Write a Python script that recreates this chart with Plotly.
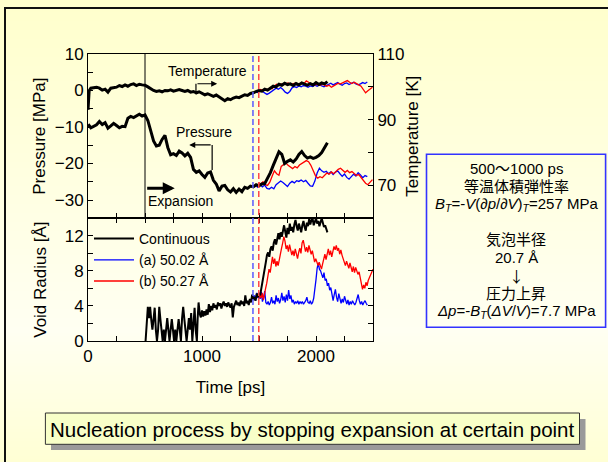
import plotly.graph_objects as go

# ---------------- data ----------------
# continuous expansion run: pressure [MPa] and temperature [K]
t_cont = [0, 10, 25, 50, 75, 100, 125, 150, 175, 200,
          225, 250, 275, 300, 325, 350, 375, 400, 425, 450,
          475, 500, 525, 550, 575, 600, 625, 650, 675, 700,
          725, 750, 775, 800, 825, 850, 875, 900, 925, 950,
          975, 1000, 1025, 1050, 1075, 1100, 1125, 1150, 1175, 1200,
          1225, 1250, 1275, 1300, 1325, 1350, 1375, 1400, 1425, 1450,
          1475, 1500, 1525, 1550, 1575, 1600, 1625, 1650, 1675, 1700,
          1725, 1750, 1775, 1800, 1825, 1850, 1875, 1900, 1925, 1950,
          1975, 2000, 2025, 2050, 2075, 2100]
p_cont = [-9.9, -9.6, -10.2, -9.8, -9.4, -8.5, -9.3, -8.8, -10.3, -9.7,
          -9.0, -9.6, -10.2, -9.8, -9.9, -7.6, -7.1, -7.4, -7.0, -6.5,
          -7.0, -6.7, -8.2, -10.8, -13.8, -15.2, -15.0, -13.4, -12.3, -15.6,
          -17.6, -17.3, -17.8, -16.6, -17.1, -17.9, -17.2, -18.3, -21.6, -22.4,
          -22.0, -23.0, -23.8, -22.6, -22.3, -24.6, -25.6, -27.5, -26.2, -26.0,
          -27.2, -27.8, -26.9, -27.9, -27.0, -27.7, -26.5, -26.8, -26.2, -26.4,
          -25.8, -26.1, -25.6, -25.5, -24.0, -22.5, -20.5, -18.5, -16.8, -17.5,
          -20.0, -19.4, -19.0, -19.6, -18.8, -17.5, -16.7, -17.8, -18.5, -18.2,
          -18.6, -18.3, -17.8, -17.0, -15.8, -14.3]
temp_cont = [93.0, 98.8, 99.6, 99.7, 99.9, 99.6, 99.0, 99.3, 98.4, 99.6,
             99.7, 99.9, 100.4, 100.1, 100.6, 100.2, 100.7, 100.9, 100.4, 100.8,
             100.6, 100.5, 100.0, 99.4, 98.9, 98.6, 98.8, 98.5, 98.9, 98.8,
             99.1, 98.7, 99.0, 99.2, 98.9, 98.6, 98.9, 98.4, 98.6, 98.2,
             98.5, 98.0, 97.6, 97.9, 97.4, 97.1, 97.5, 96.9, 96.3, 95.8,
             96.4, 96.1, 96.6, 96.9, 96.7, 97.2, 97.6, 97.4, 98.0, 98.2,
             98.6, 98.9, 98.7, 99.3, 99.0, 99.6, 100.2, 100.0, 100.8, 100.5,
             101.1, 100.7, 100.9, 100.4, 101.0, 100.6, 101.2, 100.8, 100.5, 101.0,
             100.6, 101.3, 100.7, 101.2, 100.9, 101.6]

# run (a): expansion stopped at 50.02 A
t_a = [1447, 1470, 1490, 1510, 1530, 1550, 1570, 1590, 1610, 1630,
       1650, 1670, 1690, 1710, 1730, 1750, 1770, 1790, 1810, 1830,
       1850, 1870, 1890, 1910, 1930, 1950, 1970, 1990, 2010, 2030,
       2050, 2070, 2090, 2110, 2130, 2150, 2170, 2190, 2210, 2230,
       2250, 2270, 2290, 2310, 2330, 2350, 2370, 2390, 2410, 2430,
       2450]
p_a = [-26.3, -26.0, -26.5, -25.8, -26.4, -25.9, -26.8, -27.0, -26.5, -26.9,
       -25.8, -25.3, -24.8, -25.2, -25.8, -26.3, -25.4, -24.9, -25.3, -24.7,
       -24.9, -24.5, -25.0, -24.6, -25.4, -26.1, -26.2, -24.8, -22.6, -21.3,
       -22.0, -22.4, -22.1, -22.8, -22.3, -23.0, -22.4, -22.0, -22.8, -23.5,
       -22.9, -23.8, -24.3, -23.6, -22.9, -23.4, -22.5, -23.1, -23.9, -23.3,
       -23.6]
temp_a = [98.2, 98.5, 98.3, 98.9, 98.6, 98.0, 97.7, 98.1, 98.6, 99.2,
          99.6, 99.3, 99.8, 99.2, 98.4, 98.0, 98.6, 99.7, 100.1, 99.8,
          100.3, 100.0, 100.4, 100.2, 99.9, 100.3, 100.1, 100.5, 100.2, 100.6,
          100.3, 100.0, 100.4, 100.8, 101.1, 100.6, 100.9, 101.3, 100.8, 100.5,
          101.0, 101.2, 100.7, 101.0, 101.4, 100.9, 100.6, 100.9, 101.3, 101.0,
          101.5]

# run (b): expansion stopped at 50.27 A
t_b = [1498, 1515, 1535, 1555, 1575, 1595, 1615, 1635, 1655, 1675,
       1695, 1715, 1735, 1755, 1775, 1795, 1815, 1835, 1855, 1875,
       1895, 1915, 1935, 1955, 1975, 1995, 2015, 2035, 2055, 2075,
       2095, 2115, 2135, 2155, 2175, 2195, 2215, 2235, 2255, 2275,
       2295, 2315, 2335, 2355, 2375, 2395, 2415, 2435, 2455, 2475,
       2495]
p_b = [-25.2, -25.6, -25.0, -25.8, -26.0, -25.1, -23.5, -22.0, -22.8, -23.2,
       -20.8, -20.4, -19.8, -20.5, -21.0, -21.4, -20.8, -21.2, -20.4, -20.0,
       -19.6, -19.2, -19.5, -20.5, -21.9, -23.3, -24.0, -23.6, -23.9, -23.2,
       -22.6, -22.9, -22.3, -22.8, -22.1, -21.6, -21.3, -22.0, -22.4, -21.9,
       -22.5, -22.2, -22.8, -23.3, -23.0, -23.8, -24.6, -25.4, -25.8, -25.0,
       -24.4]
temp_b = [98.8, 99.2, 98.9, 99.4, 99.1, 99.6, 99.4, 100.3, 100.8, 100.4,
          100.9, 100.6, 100.9, 101.2, 100.7, 100.9, 101.1, 100.6, 101.0, 101.3,
          101.0, 101.8, 101.4, 100.8, 100.9, 100.6, 100.9, 100.5, 100.8, 100.4,
          100.2, 100.5, 99.9, 100.3, 100.8, 101.1, 100.9, 101.3, 101.5, 101.9,
          101.4, 101.0, 101.4, 100.9, 100.6, 100.2, 99.0, 98.2, 98.8, 99.4,
          99.9]

# void radius [A]
t_r_cont = [505, 515, 525, 535, 545, 555, 565, 575, 585, 595,
            605, 615, 625, 635, 645, 655, 665, 675, 685, 695,
            705, 715, 725, 735, 745, 755, 765, 775, 785, 795,
            805, 815, 825, 835, 845, 855, 865, 875, 885, 895,
            905, 915, 925, 935, 945, 955, 962,
            970, 980, 990, 1000, 1010, 1020, 1030, 1040, 1050, 1060,
            1070, 1080, 1090, 1100, 1110, 1120, 1130, 1140, 1150, 1160,
            1170, 1180, 1190, 1200, 1210, 1220, 1230, 1240, 1250, 1260,
            1270, 1280, 1290, 1300, 1310, 1320, 1330, 1340, 1350, 1360,
            1370, 1380, 1390, 1400, 1410, 1420, 1430, 1440, 1450, 1460,
            1470, 1480, 1490, 1500, 1510, 1520, 1530, 1540, 1550, 1560,
            1570, 1580, 1590, 1600, 1610, 1620, 1630, 1640, 1650, 1660,
            1670, 1680, 1690, 1700, 1710, 1720, 1730, 1740, 1750, 1760,
            1770, 1780, 1790, 1800, 1810, 1820, 1830, 1840, 1850, 1860,
            1870, 1880, 1890, 1900, 1910, 1920, 1930, 1940, 1950, 1960,
            1970, 1980, 1990, 2000, 2010, 2020, 2030, 2040, 2050, 2060,
            2070, 2080, 2090, 2100]
r_cont = [0, 2.5, 3.9, 2.6, 3.9, 2.4, 1.3, 2.5, 3.8, 1.3,
          0, 1.3, 3.9, 2.5, 1.3, 0, 1.3, 0, 1.3, 2.6,
          1.3, 0, 1.3, 2.5, 1.3, 0, 1.3, 0, 1.3, 2.5,
          1.3, 0, 2.6, 3.9, 2.5, 1.3, 0, 1.3, 2.6, 1.3,
          3.2, 0, 2.5, 3.8, 1.2, 0, 2.6,
          4.4, 3.1, 2.7, 3.5, 2.8, 3.4, 2.9, 3.6, 3.0, 4.2,
          3.3, 4.0, 3.5, 4.3, 3.8, 4.1, 3.6, 4.4, 4.0, 4.3,
          3.7, 4.2, 4.5, 4.0, 4.3, 3.9, 4.4, 4.1, 3.8, 4.3,
          2.7, 3.9, 4.2, 4.6, 4.1, 4.4, 4.0, 4.6, 4.2, 4.5,
          4.0, 5.2, 4.3, 4.6, 4.1, 4.8, 4.4, 5.3, 4.7, 5.0,
          4.6, 5.4, 5.0, 5.5, 5.2, 5.9, 6.5, 7.4, 8.3, 9.0,
          9.8, 10.1, 9.6, 10.5, 10.8, 10.3, 11.2, 11.6, 11.0, 11.9,
          12.3, 11.6, 12.4, 11.9, 12.7, 13.2, 12.5, 11.8, 12.9, 12.2,
          13.4, 12.6, 13.0, 12.4, 13.3, 13.8, 13.1, 12.6, 13.4, 12.8,
          12.4, 13.2, 13.7, 13.0, 12.6, 13.5, 13.1, 13.9, 13.3, 13.8,
          14.0, 13.2, 13.6, 14.0, 13.4, 13.7, 13.1, 13.6, 14.0, 13.5,
          13.0, 13.2, 12.7, 12.4]

t_r_a = [1447, 1460, 1470, 1480, 1490, 1500, 1510, 1520, 1530, 1540,
         1550, 1560, 1570, 1580, 1590, 1600, 1610, 1620, 1630, 1640,
         1650, 1660, 1670, 1680, 1690, 1700, 1710, 1720, 1730, 1740,
         1750, 1760, 1770, 1780, 1790, 1800, 1810, 1820, 1830, 1840,
         1850, 1860, 1870, 1880, 1890, 1900, 1910, 1920, 1930, 1940,
         1950, 1960, 1970, 1980, 1990, 2000, 2010, 2020, 2030, 2040,
         2050, 2060, 2070, 2080, 2090, 2100, 2110, 2120, 2130, 2140,
         2150, 2160, 2170, 2180, 2190, 2200, 2210, 2220, 2230, 2240,
         2250, 2260, 2270, 2280, 2290, 2300, 2310, 2320, 2330, 2340,
         2350, 2360, 2370, 2380, 2390, 2400, 2410, 2420, 2430, 2440,
         2450]
r_a = [4.7, 5.2, 4.6, 5.5, 4.9, 5.3, 4.8, 5.6, 4.5, 4.9,
       5.7, 4.4, 4.2, 4.5, 4.1, 4.4, 5.0, 4.3, 4.6, 4.2,
       5.2, 4.5, 4.9, 4.3, 4.7, 5.5, 4.6, 5.1, 4.4, 5.3,
       4.6, 5.8, 4.8, 5.2, 4.4, 4.7, 4.2, 4.5, 4.3, 4.6,
       4.2, 4.5, 4.3, 4.5, 4.2, 4.4, 4.6, 5.0, 4.4, 4.3,
       4.6, 4.2, 4.4, 4.9, 5.8, 7.0, 8.3, 8.9, 8.2, 8.0,
       7.6, 7.2, 7.8, 6.9, 7.1, 6.3, 6.6, 5.8, 6.1, 5.0,
       4.6, 5.3, 5.9, 5.0, 4.5, 5.4, 4.7, 4.3, 4.8, 4.4,
       5.1, 4.5, 4.2, 4.7, 4.1, 4.5, 4.2, 4.6, 4.3, 4.1,
       4.4, 4.9, 5.3, 4.6, 4.2, 4.5, 4.1, 4.4, 4.6, 4.3,
       4.1]

t_r_b = [1498, 1508, 1518, 1528, 1538, 1548, 1558, 1568, 1578, 1588,
         1598, 1608, 1618, 1628, 1638, 1648, 1658, 1668, 1678, 1688,
         1698, 1708, 1718, 1728, 1738, 1748, 1758, 1768, 1778, 1788,
         1798, 1808, 1818, 1828, 1838, 1848, 1858, 1868, 1878, 1888,
         1898, 1908, 1918, 1928, 1938, 1948, 1958, 1968, 1978, 1988,
         1998, 2008, 2018, 2028, 2038, 2048, 2058, 2068, 2078, 2088,
         2098, 2108, 2118, 2128, 2138, 2148, 2158, 2168, 2178, 2188,
         2198, 2208, 2218, 2228, 2238, 2248, 2258, 2268, 2278, 2288,
         2298, 2308, 2318, 2328, 2338, 2348, 2358, 2368, 2378, 2388,
         2398, 2408, 2418, 2428, 2438, 2448, 2458, 2468, 2478, 2488,
         2500]
r_b = [4.8, 5.4, 4.9, 5.5, 4.7, 5.2, 6.0, 6.6, 7.5, 8.2,
       7.8, 9.0, 9.6, 8.8, 9.4, 8.5, 9.1, 8.6, 9.4, 9.9,
       10.6, 11.2, 11.9, 11.4, 10.5, 10.9, 10.2, 11.0, 10.4, 9.8,
       10.3, 9.7, 10.5, 9.9, 9.4, 10.1, 10.6, 10.0, 11.2, 11.5,
       10.8, 10.2, 10.7, 10.1, 10.9, 10.4, 9.9, 10.3, 9.5, 9.0,
       9.4, 8.8, 8.6, 9.0, 8.4, 8.2, 8.8, 9.4, 9.9, 9.3,
       10.1, 10.5, 9.8, 10.3, 9.6, 10.2, 10.8, 10.4, 10.9, 10.3,
       10.6, 9.9, 10.4, 9.8, 9.3, 9.0, 8.6, 9.1, 8.7, 8.3,
       8.9, 8.2, 7.9, 8.5, 7.8, 8.4, 8.0, 7.6, 7.9, 7.2,
       6.5, 5.9, 6.4, 6.0, 6.7, 6.3, 6.9, 7.2, 7.5, 7.8,
       8.2]

# times at which the expansion was stopped
t_stop_a = 1447
t_stop_b = 1498
t_expansion_start = 500

legend_names = ["Continuous", "(a) 50.02 Å", "(b) 50.27 Å"]

info_lines = [
    "500～1000 ps",
    "等温体積弾性率",
    "<i>B</i><sub><i>T</i></sub>=-<i>V</i>(∂<i>p</i>/∂<i>V</i>)<sub><i>T</i></sub>=257 MPa",
    "",
    "気泡半径",
    "20.7 Å",
    "↓",
    "圧力上昇",
    "<i>Δp</i>=-<i>B</i><sub><i>T</i></sub>(<i>ΔV</i>/<i>V</i>)=7.7 MPa",
]
caption = "Nucleation process by stopping expansion at certain point"

# ---------------- page geometry (pixels) ----------------
W, H = 608, 462
ML, MR, MT, MB = 88, 235, 54, 121
PL, PR, PT, PB = ML, W - MR, MT, H - MB
SPLIT_PX = 218.3
split = (PB - SPLIT_PX) / (PB - PT)


def fx(xp):
    return (xp - PL) / (PR - PL)


def fy(yp):
    return (PB - yp) / (PB - PT)


FONT = "Liberation Sans, Arial, Noto Sans CJK JP, sans-serif"
CJK_FONT = "Noto Sans CJK JP, Liberation Sans, sans-serif"
BLACK = "#000000"
BLUE = "#0000ff"
RED = "#ff0000"

fig = go.Figure()

# upper panel: coloured runs first, continuous run on top
fig.add_trace(go.Scatter(x=t_a, y=p_a, mode="lines", line=dict(color=BLUE, width=1.3),
                         xaxis="x", yaxis="y", showlegend=False))
fig.add_trace(go.Scatter(x=t_b, y=p_b, mode="lines", line=dict(color=RED, width=1.3),
                         xaxis="x", yaxis="y", showlegend=False))
fig.add_trace(go.Scatter(x=t_a, y=temp_a, mode="lines", line=dict(color=BLUE, width=1.3),
                         xaxis="x", yaxis="y2", showlegend=False))
fig.add_trace(go.Scatter(x=t_b, y=temp_b, mode="lines", line=dict(color=RED, width=1.3),
                         xaxis="x", yaxis="y2", showlegend=False))
fig.add_trace(go.Scatter(x=t_cont, y=p_cont, mode="lines", line=dict(color=BLACK, width=3),
                         xaxis="x", yaxis="y", showlegend=False))
fig.add_trace(go.Scatter(x=t_cont, y=temp_cont, mode="lines", line=dict(color=BLACK, width=3),
                         xaxis="x", yaxis="y2", showlegend=False))

# lower panel: void radius
fig.add_trace(go.Scatter(x=t_r_a, y=r_a, mode="lines", line=dict(color=BLUE, width=1.3),
                         xaxis="x2", yaxis="y3", name=legend_names[1], legendrank=2))
fig.add_trace(go.Scatter(x=t_r_b, y=r_b, mode="lines", line=dict(color=RED, width=1.3),
                         xaxis="x2", yaxis="y3", name=legend_names[2], legendrank=3))
fig.add_trace(go.Scatter(x=t_r_cont, y=r_cont, mode="lines", line=dict(color=BLACK, width=2),
                         xaxis="x2", yaxis="y3", name=legend_names[0], legendrank=1))

tick_font = dict(family=FONT, size=17, color="black")
title_font = dict(family=FONT, size=17, color="black")
axis_common = dict(showline=True, linecolor="black", linewidth=1, ticks="inside",
                   ticklen=5, tickwidth=1, tickcolor="black", showgrid=False,
                   zeroline=False, tickfont=tick_font)

shapes = []

# soft vertical background gradient
stops = [(0, (255, 255, 204)), (330, (255, 255, 242)), (H, (255, 255, 212))]
step = 3
for y0 in range(0, H, step):
    ym = y0 + step / 2
    for (ya, ca), (yb, cb) in zip(stops[:-1], stops[1:]):
        if ya <= ym <= yb:
            f = (ym - ya) / (yb - ya)
            c = tuple(round(a + (b - a) * f) for a, b in zip(ca, cb))
            break
    shapes.append(dict(type="rect", xref="paper", yref="paper", layer="below",
                       x0=fx(0), x1=fx(W), y0=fy(y0 + step), y1=fy(y0),
                       fillcolor="rgb(%d,%d,%d)" % c, line=dict(width=0)))

# slide frame
shapes.append(dict(type="line", xref="paper", yref="paper", x0=fx(5), x1=fx(W + 2),
                   y0=fy(8), y1=fy(8), line=dict(color="#111111", width=2)))
shapes.append(dict(type="line", xref="paper", yref="paper", x0=fx(5), x1=fx(5),
                   y0=fy(7), y1=fy(H + 2), line=dict(color="#111111", width=2)))

# start of expansion (upper panel)
shapes.append(dict(type="line", xref="x", yref="y domain", x0=t_expansion_start,
                   x1=t_expansion_start, y0=0, y1=1, line=dict(color="black", width=1)))
# stopping points, both panels
shapes.append(dict(type="line", xref="x", yref="paper", x0=t_stop_a, x1=t_stop_a, y0=0, y1=1,
                   line=dict(color="rgb(90,90,255)", width=1.5, dash="6px,3px")))
shapes.append(dict(type="line", xref="x", yref="paper", x0=t_stop_b, x1=t_stop_b, y0=0, y1=1,
                   line=dict(color="rgb(255,70,70)", width=1.5, dash="6px,3px")))

# elbow parts of the pointer arrows
shapes.append(dict(type="line", xref="x", yref="y", x0=947, x1=947, y0=-1.0, y1=1.85,
                   line=dict(color="black", width=1.2)))
shapes.append(dict(type="line", xref="x", yref="y", x0=1089, x1=1089, y0=-21.8, y1=-14.9,
                   line=dict(color="black", width=1.2)))

# info box
shapes.append(dict(type="rect", xref="paper", yref="paper", x0=fx(426.5), x1=fx(605.6),
                   y0=fy(327.3), y1=fy(154.3), line=dict(color="#3333ff", width=1.6),
                   fillcolor="rgba(0,0,0,0)"))

# caption box with drop shadow
shapes.append(dict(type="rect", xref="paper", yref="paper", x0=fx(51), x1=fx(585.5),
                   y0=fy(450), y1=fy(419), line=dict(width=0), fillcolor="#9a9a9a"))
shapes.append(dict(type="rect", xref="paper", yref="paper", x0=fx(45.4), x1=fx(579.5),
                   y0=fy(444.3), y1=fy(413), line=dict(color="#333333", width=1),
                   fillcolor="#f8ffc8"))

annotations = []
lab_font = dict(family=FONT, size=14, color="black")
annotations.append(dict(x=1050, y=5.4, xref="x", yref="y", text="Temperature",
                        showarrow=False, font=lab_font))
annotations.append(dict(x=1016, y=-11.4, xref="x", yref="y", text="Pressure",
                        showarrow=False, font=lab_font))
annotations.append(dict(x=812, y=-30.3, xref="x", yref="y", text="Expansion",
                        showarrow=False, font=lab_font))
annotations.append(dict(x=1133, y=1.85, ax=947, ay=1.85, xref="x", yref="y", axref="x",
                        ayref="y", text="", showarrow=True, arrowhead=2, arrowsize=1,
                        arrowwidth=1.2, arrowcolor="black", standoff=0))
annotations.append(dict(x=888, y=-14.9, ax=1089, ay=-14.9, xref="x", yref="y", axref="x",
                        ayref="y", text="", showarrow=True, arrowhead=2, arrowsize=1,
                        arrowwidth=1.2, arrowcolor="black", standoff=0))
annotations.append(dict(x=761, y=-26.8, ax=506, ay=-26.8, xref="x", yref="y", axref="x",
                        ayref="y", text="", showarrow=True, arrowhead=2, arrowsize=0.8,
                        arrowwidth=3, arrowcolor="black", standoff=0))

for i, line in enumerate(info_lines):
    if not line:
        continue
    fam = CJK_FONT if line == "↓" else FONT
    annotations.append(dict(x=fx(516), y=fy(168.3 + i * 17.9), xref="paper", yref="paper",
                            text=line, showarrow=False,
                            font=dict(family=fam, size=15, color="black"),
                            xanchor="center", yanchor="middle"))

annotations.append(dict(x=fx(312.5), y=fy(429), xref="paper", yref="paper", text=caption,
                        showarrow=False, font=dict(family=FONT, size=20.5, color="black"),
                        xanchor="center", yanchor="middle"))

fig.update_layout(
    width=W, height=H,
    margin=dict(l=ML, r=MR, t=MT, b=MB, pad=0),
    paper_bgcolor="rgb(255,255,210)",
    plot_bgcolor="rgba(0,0,0,0)",
    font=dict(family=FONT, color="black"),
    xaxis=dict(axis_common, domain=[0, 1], anchor="y", range=[0, 2500], dtick=1000,
               showticklabels=False, mirror=True,
               minor=dict(dtick=250, ticks="inside", ticklen=5, tickcolor="black")),
    yaxis=dict(axis_common, domain=[split, 1], anchor="x", range=[-35, 10], dtick=10,
               title=dict(text="Pressure [MPa]", font=title_font, standoff=4),
               minor=dict(dtick=5, ticks="inside", ticklen=5, tickcolor="black")),
    yaxis2=dict(axis_common, overlaying="y", side="right", anchor="x", range=[60, 110],
                tick0=70, dtick=20,
                title=dict(text="Temperature [K]", font=title_font, standoff=2),
                minor=dict(tick0=60, dtick=10, ticks="inside", ticklen=5, tickcolor="black")),
    xaxis2=dict(axis_common, domain=[0, 1], anchor="y3", range=[0, 2500], dtick=1000,
                mirror="ticks", title=dict(text="Time [ps]", font=title_font),
                minor=dict(dtick=250, ticks="inside", ticklen=5, tickcolor="black")),
    yaxis3=dict(axis_common, domain=[0, split], anchor="x2", range=[0, 14], dtick=4,
                mirror="ticks", title=dict(text="Void Radius [Å]", font=title_font, standoff=13),
                minor=dict(dtick=2, ticks="inside", ticklen=5, tickcolor="black")),
    legend=dict(x=fx(89), y=fy(223), xanchor="left", yanchor="top",
                bgcolor="rgba(0,0,0,0)", borderwidth=0, itemwidth=40,
                font=dict(family=FONT, size=14, color="black"), tracegroupgap=0),
    shapes=shapes,
    annotations=annotations,
)

fig.write_html("out.html")
